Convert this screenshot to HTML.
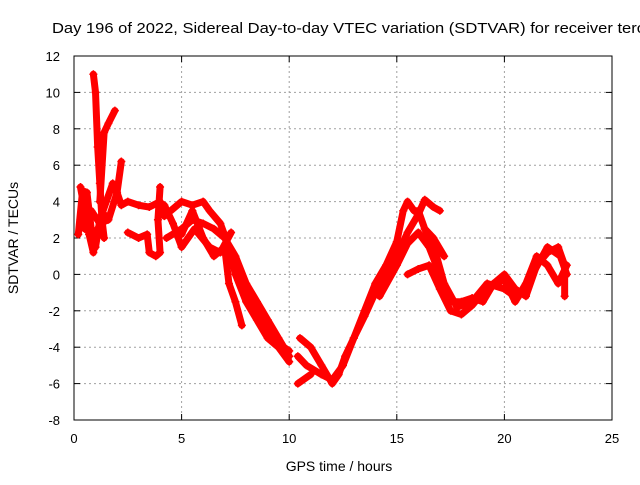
<!DOCTYPE html>
<html><head><meta charset="utf-8"><style>
body{margin:0;background:#fff}
svg text{font-family:"Liberation Sans",sans-serif;font-size:13px;fill:#000}
</style></head><body>
<svg id="chart" width="640" height="480">
<rect width="640" height="480" fill="#fff"/>
<g id="grid"></g><g id="axes"></g><g id="series"></g>
<text x="52" y="33" style="font-size:15px" textLength="593" lengthAdjust="spacingAndGlyphs">Day 196 of 2022, Sidereal Day-to-day VTEC variation (SDTVAR) for receiver terc</text>
<text x="339" y="471" text-anchor="middle" style="font-size:14px">GPS time / hours</text>
<text transform="translate(18,238) rotate(-90)" text-anchor="middle" style="font-size:14px">SDTVAR / TECUs</text>
</svg>
<script>
const xTicks=[0,5,10,15,20,25];
const yTicks=[-8,-6,-4,-2,0,2,4,6,8,10,12];
const trackA1=[[0.2,2.2],[0.4,4.6],[0.6,4.5],[0.8,2.5],[1.0,1.5],[1.2,3],[1.5,4],[1.8,5],[2.0,4.5],[2.2,3.8],[2.5,4],[3,3.8],[3.5,3.7],[4,4],[4.2,3.2]];
const trackA2=[[0.9,11],[1.0,10],[1.1,7],[1.2,5],[1.3,3],[1.4,2]];
const trackA3=[[1.2,4],[1.4,7.8],[1.6,8.3],[1.9,9]];
const trackA4=[[0.3,3],[0.5,2.5],[0.8,3.5],[1.2,2.8],[1.6,3],[2,4.5],[2.2,6.2]];
const trackA5=[[0.3,4.8],[0.5,3.5],[0.7,2.2],[0.9,1.2],[1.1,2.5],[1.5,3.2]];
const trackA6=[[2.5,2.3],[3,2],[3.4,2.2],[3.5,1.2],[3.8,1],[4,1.2],[3.9,3],[4,4.8]];
const trackB1=[[4.3,2],[5,2.5],[5.5,3],[6,2.8],[6.5,2.5],[7,2],[7.5,1],[8,-0.5],[8.5,-1.5],[9,-2.5],[9.5,-3.5],[10,-4.5]];
const trackB2=[[4.5,3.5],[5,4],[5.5,3.8],[6,4],[6.3,3.5],[6.8,2.8],[7.2,1.5],[7.5,0],[8,-1.5],[8.5,-2.5],[9,-3.5],[9.5,-4],[10,-4.8]];
const trackB3=[[5,2.2],[5.5,3.5],[6,2],[6.5,1],[7,1.5],[7.2,-0.5],[7.5,-1.5],[7.8,-2.8]];
const trackB4=[[4.2,3.8],[4.6,2.8],[5,1.5],[5.6,2.5],[6.3,1.5],[6.8,1.2],[7.3,2.3]];
const trackB5=[[7.5,0.5],[8,-1],[8.5,-2],[9,-3],[9.5,-3.8],[10,-4.2]];
const trackC1=[[10.5,-3.5],[11,-4],[11.5,-5],[12,-6],[12.3,-5.5],[12.6,-4.5],[13,-3.5],[13.5,-2],[14,-0.5],[14.5,0.5],[15,1.8],[15.3,3.5],[15.5,4],[15.8,3.5],[16,3.5],[16.3,2.5],[16.7,2],[17.2,1]];
const trackC2=[[10.4,-6],[11,-5.5]];
const trackC3=[[10.4,-4.5],[10.8,-5],[11.5,-5.5],[12,-5.8],[12.5,-5],[13,-3.5],[13.5,-2.3],[14,-1],[14.5,0],[15,1],[15.5,2.3],[16,3.3],[16.3,4.1],[16.7,3.7],[17,3.5]];
const trackC4=[[14.2,-1.2],[15,0.5],[15.5,1.7],[16,2.3],[16.5,1.5],[17,0],[17.5,-1.5],[18,-1.5],[18.5,-1.3],[19,-1.5],[19.5,-0.5],[20,0],[20.5,-0.8],[21,-1.2],[21.5,0.5],[22,1.2],[22.5,1.5],[22.8,0.5],[22.8,-1.2]];
const trackC5=[[15.5,0],[16,0.3],[16.5,0.5],[17,-0.8],[17.5,-2],[18,-2.2],[18.5,-1.7],[19,-1],[19.5,-0.5],[20,-0.3],[20.5,-1.5],[21,-0.5],[21.5,1],[22,0.5],[22.5,-0.5],[22.9,0.5]];
const trackC6=[[16.3,2.5],[16.8,1.2],[17.2,-0.5],[17.8,-1.8],[18.5,-1.5],[19.2,-0.5],[20,-0.8],[20.6,-1.3],[21.3,0],[22,1.5],[22.6,1],[22.9,0]];
const tracks=[trackA1,trackA2,trackA3,trackA4,trackA5,trackA6,trackB1,trackB2,trackB3,trackB4,trackB5,trackC1,trackC2,trackC3,trackC4,trackC5,trackC6];
const L=74,R=612,T=56,B=420;
const sx=v=>L+(v-0)/(25-0)*(R-L);
const sy=v=>B-(v+8)/(20)*(B-T);
const NS="http://www.w3.org/2000/svg";
function mk(tag,attrs,parent){const e=document.createElementNS(NS,tag);for(const k in attrs)e.setAttribute(k,attrs[k]);parent.appendChild(e);return e;}
const grid=document.getElementById('grid'),axes=document.getElementById('axes'),ser=document.getElementById('series');
xTicks.forEach(t=>{
  if(t>0&&t<25){const g=mk('line',{x1:sx(t),x2:sx(t),y1:T,y2:B,stroke:'#a0a0a0','stroke-dasharray':'2,3'},grid);
  
  }
  mk('line',{x1:sx(t),x2:sx(t),y1:B,y2:B-6,stroke:'#000'},axes);
  mk('line',{x1:sx(t),x2:sx(t),y1:T,y2:T+6,stroke:'#000'},axes);
  const tx=mk('text',{x:sx(t),y:B+23,'text-anchor':'middle'},axes);tx.textContent=t;
  
  
});
yTicks.forEach(t=>{
  if(t>-8&&t<12){const g=mk('line',{x1:L,x2:R,y1:sy(t),y2:sy(t),stroke:'#a0a0a0','stroke-dasharray':'2,3'},grid);
  
  }
  mk('line',{x1:L,x2:L+6,y1:sy(t),y2:sy(t),stroke:'#000'},axes);
  mk('line',{x1:R,x2:R-6,y1:sy(t),y2:sy(t),stroke:'#000'},axes);
  const tx=mk('text',{x:L-14,y:sy(t)+5,'text-anchor':'end'},axes);tx.textContent=t;
  
  
});
const fr=mk('rect',{x:L,y:T,width:R-L,height:B-T,fill:'none',stroke:'#000'},axes);


tracks.forEach(tr=>{
  const pl=mk('polyline',{points:tr.map(p=>sx(p[0])+','+sy(p[1])).join(' '),fill:'none',stroke:'#ff0000','stroke-width':7,'stroke-linejoin':'round','stroke-linecap':'round'},ser);
  
  
  tr.forEach(p=>{
    const x=sx(p[0]),y=sy(p[1]);
    const m=mk('path',{d:`M${x-4},${y}H${x+4}M${x},${y-4}V${y+4}`,stroke:'#ff0000','stroke-width':1.5},ser);
    
    
  });
});
</script>
</body></html>
